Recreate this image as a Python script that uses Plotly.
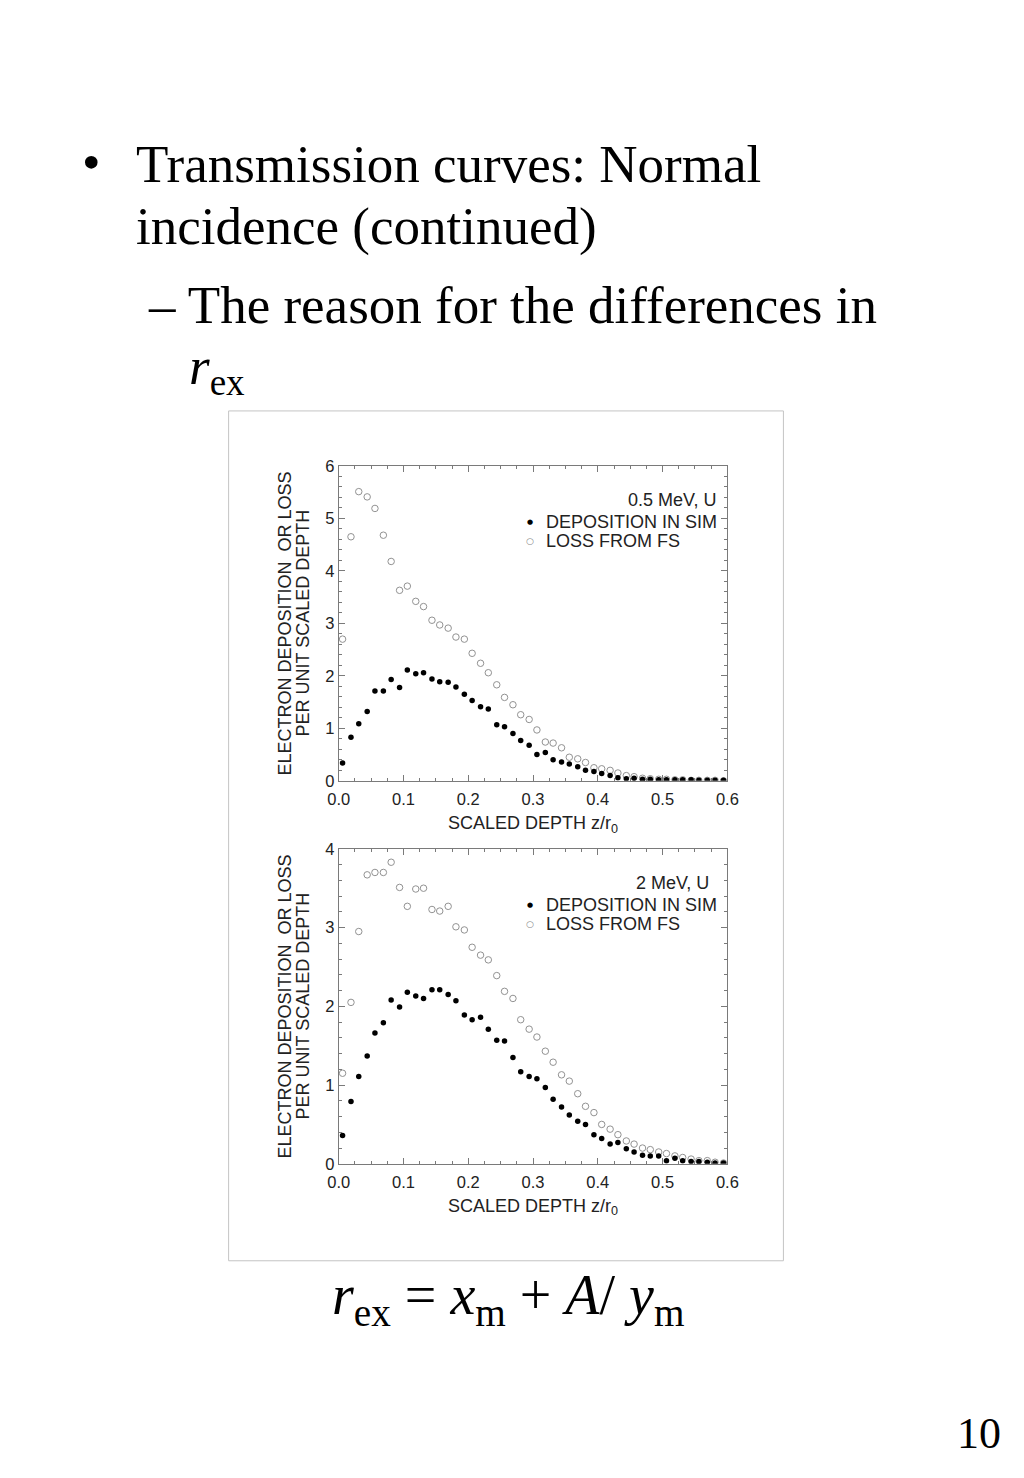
import plotly.graph_objects as go

W, H = 1024, 1478

# the photographed page comes out slightly shrunk about its centre;
# these factors map wanted picture pixels to figure paper coordinates
AX, BX = 11.0, 0.978
AY, BY = 8.0, 0.988

def px(x):
    return (x - AX) / BX / W

def py(y):
    return 1 - (y - AY) / BY / H

# ---------------- data ----------------
DEPTH = [0.006, 0.019, 0.031, 0.044, 0.056, 0.069, 0.081, 0.094, 0.106, 0.119,
         0.131, 0.144, 0.156, 0.169, 0.181, 0.194, 0.206, 0.219, 0.231, 0.244,
         0.256, 0.269, 0.281, 0.294, 0.306, 0.319, 0.331, 0.344, 0.356, 0.369,
         0.381, 0.394, 0.406, 0.419, 0.431, 0.444, 0.456, 0.469, 0.481, 0.494,
         0.506, 0.519, 0.531, 0.544, 0.556, 0.569, 0.581, 0.594]

DEP_05 = [0.34, 0.83, 1.09, 1.32, 1.71, 1.71, 1.93, 1.78, 2.11, 2.04,
          2.06, 1.94, 1.89, 1.88, 1.79, 1.65, 1.53, 1.41, 1.37, 1.07,
          1.03, 0.90, 0.77, 0.68, 0.50, 0.54, 0.40, 0.36, 0.32, 0.27,
          0.20, 0.18, 0.14, 0.10, 0.06, 0.04, 0.05, 0.03, 0.03, 0.02,
          0.02, 0.02, 0.02, 0.02, 0.01, 0.01, 0.01, 0.01]

LOSS_05 = [2.70, 4.65, 5.51, 5.41, 5.19, 4.68, 4.18, 3.63, 3.71, 3.42,
           3.32, 3.06, 2.97, 2.91, 2.74, 2.70, 2.43, 2.24, 2.06, 1.83,
           1.59, 1.45, 1.26, 1.17, 0.97, 0.74, 0.72, 0.63, 0.45, 0.42,
           0.35, 0.25, 0.23, 0.20, 0.15, 0.10, 0.08, 0.05, 0.04, 0.03,
           0.03, 0.02, 0.02, 0.01, 0.01, 0.01, 0.01, 0.00]

DEP_2 = [0.36, 0.79, 1.11, 1.37, 1.66, 1.79, 2.08, 1.99, 2.18, 2.13,
         2.10, 2.21, 2.21, 2.15, 2.07, 1.89, 1.83, 1.86, 1.71, 1.57,
         1.56, 1.35, 1.17, 1.11, 1.08, 0.97, 0.82, 0.72, 0.62, 0.54,
         0.50, 0.37, 0.32, 0.25, 0.27, 0.19, 0.15, 0.11, 0.10, 0.10,
         0.04, 0.07, 0.04, 0.03, 0.03, 0.02, 0.01, 0.01]

LOSS_2 = [1.15, 2.05, 2.95, 3.67, 3.70, 3.70, 3.83, 3.51, 3.27, 3.49,
          3.50, 3.23, 3.21, 3.27, 3.01, 2.97, 2.75, 2.65, 2.59, 2.39,
          2.19, 2.10, 1.83, 1.71, 1.61, 1.43, 1.29, 1.13, 1.05, 0.89,
          0.73, 0.65, 0.50, 0.44, 0.37, 0.29, 0.25, 0.20, 0.18, 0.15,
          0.13, 0.10, 0.08, 0.06, 0.04, 0.04, 0.02, 0.01]

SERIES_NAMES = ["DEPOSITION IN SIM", "LOSS FROM FS"]
PANEL_LABELS = ["0.5 MeV, U", "2 MeV, U"]
X_TITLE = "SCALED DEPTH z/r<sub>0</sub>"
Y_TITLE_LINES = ["ELECTRON DEPOSITION  OR LOSS", "PER UNIT SCALED DEPTH"]

# ---------------- styles ----------------
SANS = "Liberation Sans, Arial, Helvetica, sans-serif"
SERIF = "Liberation Serif, Times New Roman, serif"
SYM = "DejaVu Sans"
AX_COLOR = "#7a7a7a"
TXT = "#222222"
LOSS_COLOR = "#929292"

X0, X1 = 338.5, 727
TOP = (465, 780)
BOT = (848, 1163)

fig = go.Figure()

panels = [
    ("x", "y", DEP_05, LOSS_05),
    ("x2", "y2", DEP_2, LOSS_2),
]
for xa, ya, dep, loss in panels:
    fig.add_trace(go.Scatter(
        x=DEPTH, y=loss, mode="markers", name=SERIES_NAMES[1],
        xaxis=xa, yaxis=ya, showlegend=False,
        marker=dict(symbol="circle-open", size=6.5, color=LOSS_COLOR,
                    line=dict(width=1, color=LOSS_COLOR)),
    ))
    fig.add_trace(go.Scatter(
        x=DEPTH, y=dep, mode="markers", name=SERIES_NAMES[0],
        xaxis=xa, yaxis=ya, showlegend=False,
        marker=dict(symbol="circle", size=5.5, color="black"),
    ))

TICK_FONT = dict(family=SANS, size=16.5, color=TXT)
LAB_FONT = dict(family=SANS, size=18, color=TXT)

def xaxis(domain, anchor):
    return dict(
        domain=domain, anchor=anchor, range=[0, 0.6], dtick=0.1,
        tickformat=".1f", ticks="inside", ticklen=6, tickcolor=AX_COLOR,
        showline=True, linecolor=AX_COLOR, linewidth=1, mirror="ticks",
        showgrid=False, zeroline=False, ticklabelstandoff=3,
        minor=dict(dtick=0.025, ticks="inside", ticklen=3, tickcolor=AX_COLOR),
        tickfont=TICK_FONT,
        title=dict(text=X_TITLE, font=LAB_FONT, standoff=9),
    )

def yaxis(domain, anchor, rmax):
    return dict(
        domain=domain, anchor=anchor, range=[0, rmax], dtick=1,
        ticks="inside", ticklen=6, tickcolor=AX_COLOR,
        showline=True, linecolor=AX_COLOR, linewidth=1, mirror="ticks",
        showgrid=False, zeroline=False,
        minor=dict(dtick=0.2, ticks="inside", ticklen=3, tickcolor=AX_COLOR),
        tickfont=TICK_FONT,
    )

xd = [px(X0), px(X1)]

annotations = []
# y axis titles (two lines each)
for (ytop, ybot) in (TOP, BOT):
    yc = (ytop + ybot) / 2
    for xline, txt in zip((285, 303), Y_TITLE_LINES):
        annotations.append(dict(
            x=px(xline), y=py(yc), text=txt, textangle=-90,
            xanchor="center", font=LAB_FONT,
        ))

# in-panel legends
for label, y_lab, y_dep, y_loss, x_lab in (
        (PANEL_LABELS[0], 499, 521, 540, 718),
        (PANEL_LABELS[1], 882, 904, 923, 711)):
    annotations += [
        dict(x=px(x_lab), y=py(y_lab), text=label, xanchor="right", font=LAB_FONT),
        dict(x=px(529.5), y=py(y_dep), text="\u25cf", xanchor="center",
             font=dict(family=SYM, size=7, color="black")),
        dict(x=px(544), y=py(y_dep), text=SERIES_NAMES[0], font=LAB_FONT),
        dict(x=px(529.5), y=py(y_loss), text="\u25cb", xanchor="center",
             font=dict(family=SYM, size=9, color="#888888")),
        dict(x=px(544), y=py(y_loss), text=SERIES_NAMES[1], font=LAB_FONT),
    ]

# slide text
slide_font = dict(family=SERIF, size=53, color="black")
annotations += [
    dict(x=px(80), y=py(161), text="\u2022", font=slide_font),
    dict(x=px(134), y=py(163), text="Transmission curves: Normal", font=slide_font),
    dict(x=px(134), y=py(226), text="incidence (continued)", font=slide_font),
    dict(x=px(146), y=py(304), text="\u2013 The reason for the differences in", font=slide_font),
    dict(x=px(187), y=py(369), text="<i>r</i><sub>ex</sub>", font=slide_font),
    dict(x=px(508), y=py(1298), text="<i>r</i><sub>ex</sub> = <i>x</i><sub>m</sub> + <i>A</i>/ <i>y</i><sub>m</sub>",
         font=dict(family=SERIF, size=56, color="black"), xanchor="center"),
    dict(x=px(1002), y=py(1433), text="10", font=dict(family=SERIF, size=44, color="black"),
         xanchor="right"),
]
for a in annotations:
    a.setdefault("xref", "paper")
    a.setdefault("yref", "paper")
    a.setdefault("showarrow", False)
    a.setdefault("xanchor", "left")
    a.setdefault("yanchor", "middle")

fig.update_layout(
    width=W, height=H,
    margin=dict(l=0, r=0, t=0, b=0),
    paper_bgcolor="white", plot_bgcolor="white",
    xaxis=xaxis(xd, "y"),
    yaxis=yaxis([py(TOP[1]), py(TOP[0])], "x", 6),
    xaxis2=xaxis(xd, "y2"),
    yaxis2=yaxis([py(BOT[1]), py(BOT[0])], "x2", 4),
    annotations=annotations,
    shapes=[dict(type="rect", xref="paper", yref="paper",
                 x0=px(228.5), x1=px(783), y0=py(1260), y1=py(410),
                 line=dict(color="#c4c4c4", width=1))],
    showlegend=False,
)

fig.write_html("out.html", config={"displayModeBar": False},
               post_script="document.body.style.margin='0px';document.body.style.overflow='hidden';")
